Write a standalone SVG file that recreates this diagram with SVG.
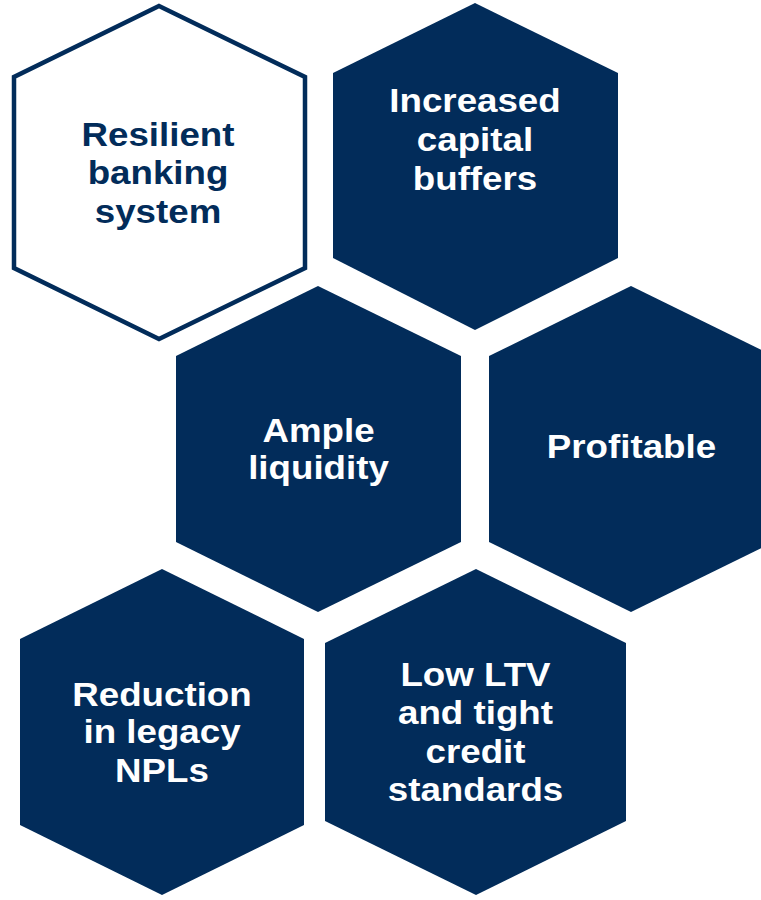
<svg xmlns="http://www.w3.org/2000/svg" width="761" height="900" viewBox="0 0 761 900">
  <style>
    .hex { fill: #022c5a; }
    .hex-outline { fill: #ffffff; stroke: #022c5a; stroke-width: 4.5; stroke-linejoin: miter; }
    .label { font-family: "Liberation Sans", Arial, Helvetica, sans-serif; font-weight: bold; font-size: 32.5px; text-anchor: middle; }
    .light { fill: #ffffff; }
    .dark { fill: #022c5a; }
  </style>

  <rect x="0" y="0" width="761" height="900" fill="#ffffff"/>

  <!-- Outlined hexagon -->
  <g id="resilient-banking-system">
    <polygon class="hex-outline" points="159,6 305,77 305,268 159,339 14,268 14,77"/>
    <g class="label dark">
      <text transform="translate(158,145.7) scale(1.13,1)">Resilient</text>
      <text transform="translate(158,184.3) scale(1.13,1)">banking</text>
      <text transform="translate(158,222.7) scale(1.13,1)">system</text>
    </g>
  </g>

  <g id="increased-capital-buffers">
    <polygon class="hex" points="475,3 618,73 618,258 475,330 333,258 333,73"/>
    <g class="label light">
      <text transform="translate(475,111.7) scale(1.13,1)">Increased</text>
      <text transform="translate(475,151) scale(1.13,1)">capital</text>
      <text transform="translate(475,190) scale(1.13,1)">buffers</text>
    </g>
  </g>

  <g id="ample-liquidity">
    <polygon class="hex" points="318,286 461,356 461,542 318,612 176,542 176,356"/>
    <g class="label light">
      <text transform="translate(318.5,441.7) scale(1.13,1)">Ample</text>
      <text transform="translate(318.5,479) scale(1.13,1)">liquidity</text>
    </g>
  </g>

  <g id="profitable">
    <polygon class="hex" points="631,286 774,356 774,542 631,612 489,542 489,356"/>
    <g class="label light">
      <text transform="translate(631.5,457.7) scale(1.13,1)">Profitable</text>
    </g>
  </g>

  <g id="reduction-legacy-npls">
    <polygon class="hex" points="162,569 304,639 304,825 162,895 20,825 20,639"/>
    <g class="label light">
      <text transform="translate(162,706) scale(1.13,1)">Reduction</text>
      <text transform="translate(162,743.3) scale(1.13,1)">in legacy</text>
      <text transform="translate(162,781.7) scale(1.13,1)">NPLs</text>
    </g>
  </g>

  <g id="low-ltv-credit-standards">
    <polygon class="hex" points="476,569 626,643 626,821 476,895 325,821 325,643"/>
    <g class="label light">
      <text transform="translate(475.5,686) scale(1.13,1)">Low LTV</text>
      <text transform="translate(475.5,724.3) scale(1.13,1)">and tight</text>
      <text transform="translate(475.5,762.7) scale(1.13,1)">credit</text>
      <text transform="translate(475.5,800.7) scale(1.13,1)">standards</text>
    </g>
  </g>

  <!-- No connectors in this layout -->
  <g id="connectors"/>
</svg>
